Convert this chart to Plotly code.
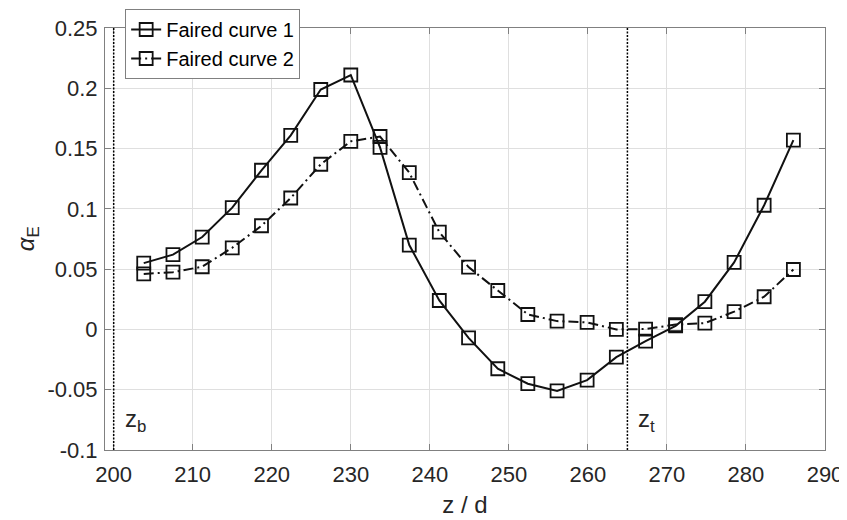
import plotly.graph_objects as go

# ---- data ----
z_over_d = [203.8, 207.5, 211.2, 215.0, 218.7, 222.4, 226.2, 230.0, 233.7, 237.4, 241.2, 244.9,
            248.6, 252.4, 256.1, 259.9, 263.6, 267.3, 271.1, 274.8, 278.5, 282.3, 286.0]
curve1 = [0.055, 0.062, 0.0766, 0.101, 0.132, 0.161, 0.199, 0.211, 0.151, 0.070, 0.024, -0.007,
          -0.0326, -0.045, -0.051, -0.042, -0.023, -0.0097, 0.003, 0.023, 0.0556, 0.103, 0.157]
curve2 = [0.046, 0.0475, 0.052, 0.0677, 0.086, 0.109, 0.137, 0.156, 0.160, 0.130, 0.0807, 0.0517,
          0.0323, 0.0124, 0.0069, 0.0058, 0.000, 0.0003, 0.004, 0.0052, 0.0147, 0.0271, 0.0497]
series_names = ["Faired curve 1", "Faired curve 2"]

boundary_z = [200, 265]
boundary_labels = ["z<sub>b</sub>", "z<sub>t</sub>"]

x_ticks = [200, 210, 220, 230, 240, 250, 260, 270, 280, 290]
x_ticktext = ["200", "210", "220", "230", "240", "250", "260", "270", "280", "290"]
y_ticks = [-0.1, -0.05, 0, 0.05, 0.1, 0.15, 0.2, 0.25]
y_ticktext = ["-0.1", "-0.05", "0", "0.05", "0.1", "0.15", "0.2", "0.25"]

FONT = "Liberation Sans, Arial, Helvetica, sans-serif"
TXT = "#262626"

fig = go.Figure()
fig.add_trace(go.Scatter(
    x=z_over_d, y=curve1, name=series_names[0], mode="lines+markers",
    line=dict(color="#111111", width=2, dash="solid"),
    marker=dict(symbol="square-open", size=13, color="#111111", line=dict(width=1.8, color="#111111")),
))
fig.add_trace(go.Scatter(
    x=z_over_d, y=curve2, name=series_names[1], mode="lines+markers",
    line=dict(color="#111111", width=2, dash="10px,4px,2px,4px"),
    marker=dict(symbol="square-open", size=13, color="#111111", line=dict(width=1.8, color="#111111")),
))

for zb, lab in zip(boundary_z, boundary_labels):
    fig.add_shape(type="line", xref="x", yref="paper", x0=zb, x1=zb, y0=0, y1=1,
                  line=dict(color="#000000", width=1.5, dash="2px,1.5px"), layer="above")
    fig.add_annotation(x=zb, y=0.07, xref="x", yref="paper", text=lab, showarrow=False,
                       xanchor="left", yanchor="middle", xshift=9,
                       font=dict(family=FONT, size=24, color=TXT))

# y-axis title as rotated annotation
fig.add_annotation(x=-0.108, y=0.5, xref="paper", yref="paper",
                   text="<i>α</i><sub>E</sub>", textangle=-90, showarrow=False,
                   xanchor="center", yanchor="middle",
                   font=dict(family=FONT, size=24, color=TXT))

axis_common = dict(
    showgrid=True, gridcolor="#dfdfdf", gridwidth=1,
    showline=True, linecolor="#808080", linewidth=1, mirror="ticks",
    ticks="inside", ticklen=6, tickcolor="#808080", tickwidth=1,
    zeroline=False, tickfont=dict(family=FONT, size=22, color=TXT),
)

# the page body has an 8px default margin, so the figure is sized to fit the window
fig.update_layout(
    width=839, height=512,
    margin=dict(l=97, r=22, t=20, b=70, autoexpand=False),
    paper_bgcolor="white", plot_bgcolor="white",
    xaxis=dict(range=[198.9, 290], tickmode="array", tickvals=x_ticks, ticktext=x_ticktext,
               title=dict(text="z / d", font=dict(family=FONT, size=24, color=TXT), standoff=9),
               automargin=False, ticklabelstandoff=5, **axis_common),
    yaxis=dict(range=[-0.1, 0.25], tickmode="array", tickvals=y_ticks, ticktext=y_ticktext,
               automargin=False, ticklabelstandoff=2, **axis_common),
    showlegend=True,
    legend=dict(x=0.028, y=1.045, xanchor="left", yanchor="top",
                bgcolor="white", bordercolor="#808080", borderwidth=1,
                font=dict(family=FONT, size=20, color="#000000"),
                tracegroupgap=0, itemwidth=30),
)

fig.write_html("out.html")
